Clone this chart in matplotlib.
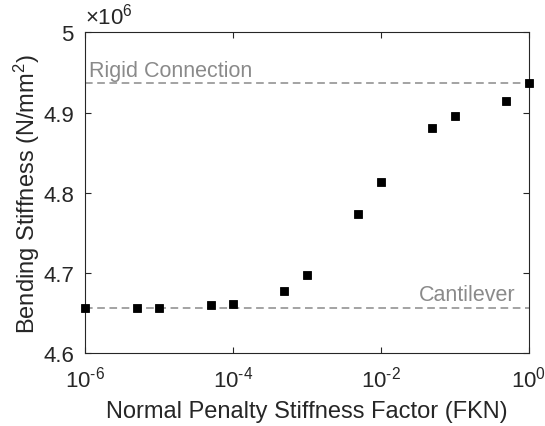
import matplotlib
matplotlib.use("Agg")
import math
import matplotlib.pyplot as plt
from matplotlib.ticker import FuncFormatter, FixedLocator, NullLocator

# Normal penalty stiffness factor and resulting bending stiffness (N/mm^2)
fkn = [1e-6, 5e-6, 1e-5, 5e-5, 1e-4, 5e-4, 1e-3, 5e-3, 1e-2, 5e-2, 1e-1, 5e-1, 1e0]
stiffness = [4.657e6, 4.657e6, 4.657e6, 4.660e6, 4.662e6, 4.678e6, 4.697e6,
             4.773e6, 4.813e6, 4.881e6, 4.896e6, 4.914e6, 4.937e6]

# Reference limits
rigid_value = 4.937e6
cantilever_value = 4.657e6

x_ticks = [1e-6, 1e-4, 1e-2, 1e0]
y_ticks = [4.6e6, 4.7e6, 4.8e6, 4.9e6, 5.0e6]
y_scale = 1e6

plt.rcParams['font.family'] = ['Liberation Sans', 'DejaVu Sans']
plt.rcParams['mathtext.fontset'] = 'custom'
plt.rcParams['mathtext.rm'] = 'Liberation Sans'
plt.rcParams['mathtext.it'] = 'Liberation Sans'

axcol = '#262626'
refcol = '#8a8a8a'


def pow10_label(v, pos):
    e = int(round(math.log10(v)))
    exp = r'\text{-}' + str(-e) if e < 0 else str(e)
    return r'$\mathregular{10^{' + exp + '}}$'


fig = plt.figure(figsize=(5.45, 4.27), dpi=100)
ax = fig.add_axes([85 / 545, 1 - 354.3 / 427, (528.5 - 85) / 545, (354.3 - 33.3) / 427])

ax.axhline(rigid_value, color=refcol, ls=(0, (5, 3)), lw=1.1, zorder=1)
ax.axhline(cantilever_value, color=refcol, ls=(0, (5, 3)), lw=1.1, zorder=1)
ax.plot(fkn, stiffness, ls='none', marker='s', ms=6.4, color='black',
        markeredgecolor='black', markeredgewidth=0.6, clip_on=False, zorder=3)

ax.text(1.15e-6, rigid_value + 0.0085e6, 'Rigid Connection', color=refcol,
        fontsize=15.5, ha='left', va='baseline')
ax.text(0.67, cantilever_value + 0.0095e6, 'Cantilever', color=refcol,
        fontsize=15.5, ha='right', va='baseline')

ax.set_xscale('log')
ax.set_xlim(1e-6, 1e0)
ax.set_ylim(4.6e6, 5.0e6)
ax.xaxis.set_major_locator(FixedLocator(x_ticks))
ax.xaxis.set_minor_locator(NullLocator())
ax.xaxis.set_major_formatter(FuncFormatter(pow10_label))
ax.yaxis.set_major_locator(FixedLocator(y_ticks))
ax.yaxis.set_major_formatter(FuncFormatter(lambda v, p: f'{v / y_scale:g}'))
ax.text(0.0, 1.012, r'$\times10^{6}$', transform=ax.transAxes, fontsize=16,
        color=axcol, ha='left', va='bottom')

for s in ax.spines.values():
    s.set_color(axcol)
    s.set_linewidth(0.8)
ax.tick_params(which='both', direction='in', top=True, right=True,
               length=4, width=0.8, color=axcol, labelcolor=axcol,
               labelsize=16)
ax.tick_params(axis='y', pad=8)
ax.tick_params(axis='x', pad=9)

ax.set_xlabel('Normal Penalty Stiffness Factor (FKN)', fontsize=17, color=axcol)
ax.set_ylabel('Bending Stiffness (N/mm$^2$)', fontsize=17, color=axcol)
ax.xaxis.set_label_coords(0.5, -0.145)
ax.yaxis.set_label_coords(-0.097, 0.5)

fig.savefig('out.png', dpi=100)
